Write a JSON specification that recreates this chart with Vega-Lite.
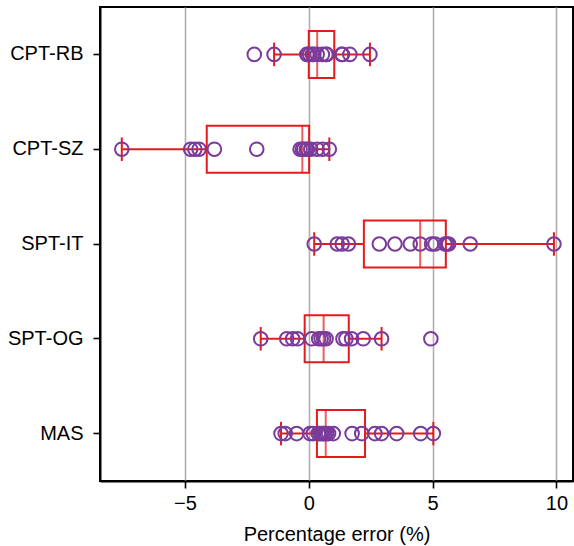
{
  "$schema": "https://vega.github.io/schema/vega-lite/v6.json",
  "autosize": {"type": "none"},
  "padding": {"left": 100, "top": 7, "right": 1, "bottom": 65},
  "width": 473,
  "height": 474,
  "background": "white",
  "data": {
    "values": [
      {"method": "CPT-RB", "error": -2.2},
      {"method": "CPT-RB", "error": -1.4},
      {"method": "CPT-RB", "error": -0.08},
      {"method": "CPT-RB", "error": -0.04},
      {"method": "CPT-RB", "error": 0.04},
      {"method": "CPT-RB", "error": 0.15},
      {"method": "CPT-RB", "error": 0.2},
      {"method": "CPT-RB", "error": 0.34},
      {"method": "CPT-RB", "error": 0.55},
      {"method": "CPT-RB", "error": 0.69},
      {"method": "CPT-RB", "error": 0.73},
      {"method": "CPT-RB", "error": 1.33},
      {"method": "CPT-RB", "error": 1.36},
      {"method": "CPT-RB", "error": 1.66},
      {"method": "CPT-RB", "error": 2.47},

      {"method": "CPT-SZ", "error": -7.55},
      {"method": "CPT-SZ", "error": -4.77},
      {"method": "CPT-SZ", "error": -4.6},
      {"method": "CPT-SZ", "error": -4.43},
      {"method": "CPT-SZ", "error": -3.81},
      {"method": "CPT-SZ", "error": -2.1},
      {"method": "CPT-SZ", "error": -0.35},
      {"method": "CPT-SZ", "error": -0.26},
      {"method": "CPT-SZ", "error": -0.2},
      {"method": "CPT-SZ", "error": -0.1},
      {"method": "CPT-SZ", "error": -0.05},
      {"method": "CPT-SZ", "error": 0.08},
      {"method": "CPT-SZ", "error": 0.34},
      {"method": "CPT-SZ", "error": 0.56},
      {"method": "CPT-SZ", "error": 0.83},

      {"method": "SPT-IT", "error": 0.22},
      {"method": "SPT-IT", "error": 1.15},
      {"method": "SPT-IT", "error": 1.35},
      {"method": "SPT-IT", "error": 1.6},
      {"method": "SPT-IT", "error": 2.85},
      {"method": "SPT-IT", "error": 3.48},
      {"method": "SPT-IT", "error": 4.1},
      {"method": "SPT-IT", "error": 4.5},
      {"method": "SPT-IT", "error": 4.96},
      {"method": "SPT-IT", "error": 5.1},
      {"method": "SPT-IT", "error": 5.5},
      {"method": "SPT-IT", "error": 5.57},
      {"method": "SPT-IT", "error": 5.65},
      {"method": "SPT-IT", "error": 6.52},
      {"method": "SPT-IT", "error": 9.9},

      {"method": "SPT-OG", "error": -1.94},
      {"method": "SPT-OG", "error": -0.89},
      {"method": "SPT-OG", "error": -0.65},
      {"method": "SPT-OG", "error": -0.45},
      {"method": "SPT-OG", "error": 0.12},
      {"method": "SPT-OG", "error": 0.4},
      {"method": "SPT-OG", "error": 0.5},
      {"method": "SPT-OG", "error": 0.6},
      {"method": "SPT-OG", "error": 0.7},
      {"method": "SPT-OG", "error": 1.38},
      {"method": "SPT-OG", "error": 1.5},
      {"method": "SPT-OG", "error": 1.73},
      {"method": "SPT-OG", "error": 2.2},
      {"method": "SPT-OG", "error": 2.94},
      {"method": "SPT-OG", "error": 4.93},

      {"method": "MAS", "error": -1.12},
      {"method": "MAS", "error": -0.95},
      {"method": "MAS", "error": -0.49},
      {"method": "MAS", "error": 0.05},
      {"method": "MAS", "error": 0.18},
      {"method": "MAS", "error": 0.38},
      {"method": "MAS", "error": 0.45},
      {"method": "MAS", "error": 0.52},
      {"method": "MAS", "error": 0.59},
      {"method": "MAS", "error": 0.65},
      {"method": "MAS", "error": 0.72},
      {"method": "MAS", "error": 0.8},
      {"method": "MAS", "error": 0.99},
      {"method": "MAS", "error": 1.75},
      {"method": "MAS", "error": 2.14},
      {"method": "MAS", "error": 2.67},
      {"method": "MAS", "error": 2.94},
      {"method": "MAS", "error": 3.55},
      {"method": "MAS", "error": 4.52},
      {"method": "MAS", "error": 5.03}
    ]
  },
  "encoding": {
    "y": {
      "field": "method",
      "type": "nominal",
      "sort": ["CPT-RB", "CPT-SZ", "SPT-IT", "SPT-OG", "MAS"],
      "scale": {"paddingInner": 0, "paddingOuter": 0},
      "axis": {"title": null, "grid": false}
    },
    "x": {
      "field": "error",
      "type": "quantitative",
      "scale": {"domain": [-8.43, 10.67], "nice": false, "zero": false},
      "axis": {
        "title": "Percentage error (%)",
        "values": [-5, 0, 5, 10],
        "format": "d",
        "grid": true
      }
    }
  },
  "layer": [
    {
      "mark": {
        "type": "boxplot",
        "extent": 1.5,
        "size": 47,
        "outliers": false,
        "box": {"filled": false, "stroke": "#e41a1c", "strokeWidth": 2, "fill": "transparent"},
        "median": {"color": "#e41a1c", "thickness": 2},
        "rule": {"color": "#e41a1c", "strokeWidth": 2},
        "ticks": {"color": "#e41a1c", "size": 23.5, "thickness": 2}
      }
    },
    {
      "mark": {
        "type": "point",
        "shape": "circle",
        "filled": false,
        "stroke": "#7a3b9a",
        "strokeWidth": 2,
        "size": 185,
        "opacity": 1
      }
    }
  ],
  "config": {
    "view": {"stroke": "black", "strokeWidth": 2},
    "axis": {
      "labelFont": "Liberation Sans",
      "titleFont": "Liberation Sans",
      "labelFontSize": 20,
      "titleFontSize": 20,
      "titleFontWeight": "normal",
      "labelColor": "black",
      "titleColor": "black",
      "tickColor": "black",
      "tickSize": 7,
      "tickWidth": 1.6,
      "domainColor": "black",
      "domainWidth": 2,
      "gridColor": "#b0b0b0",
      "gridWidth": 1.6
    },
    "axisY": {"labelPadding": 10},
    "axisX": {"labelPadding": 5, "titlePadding": 11}
  }
}
